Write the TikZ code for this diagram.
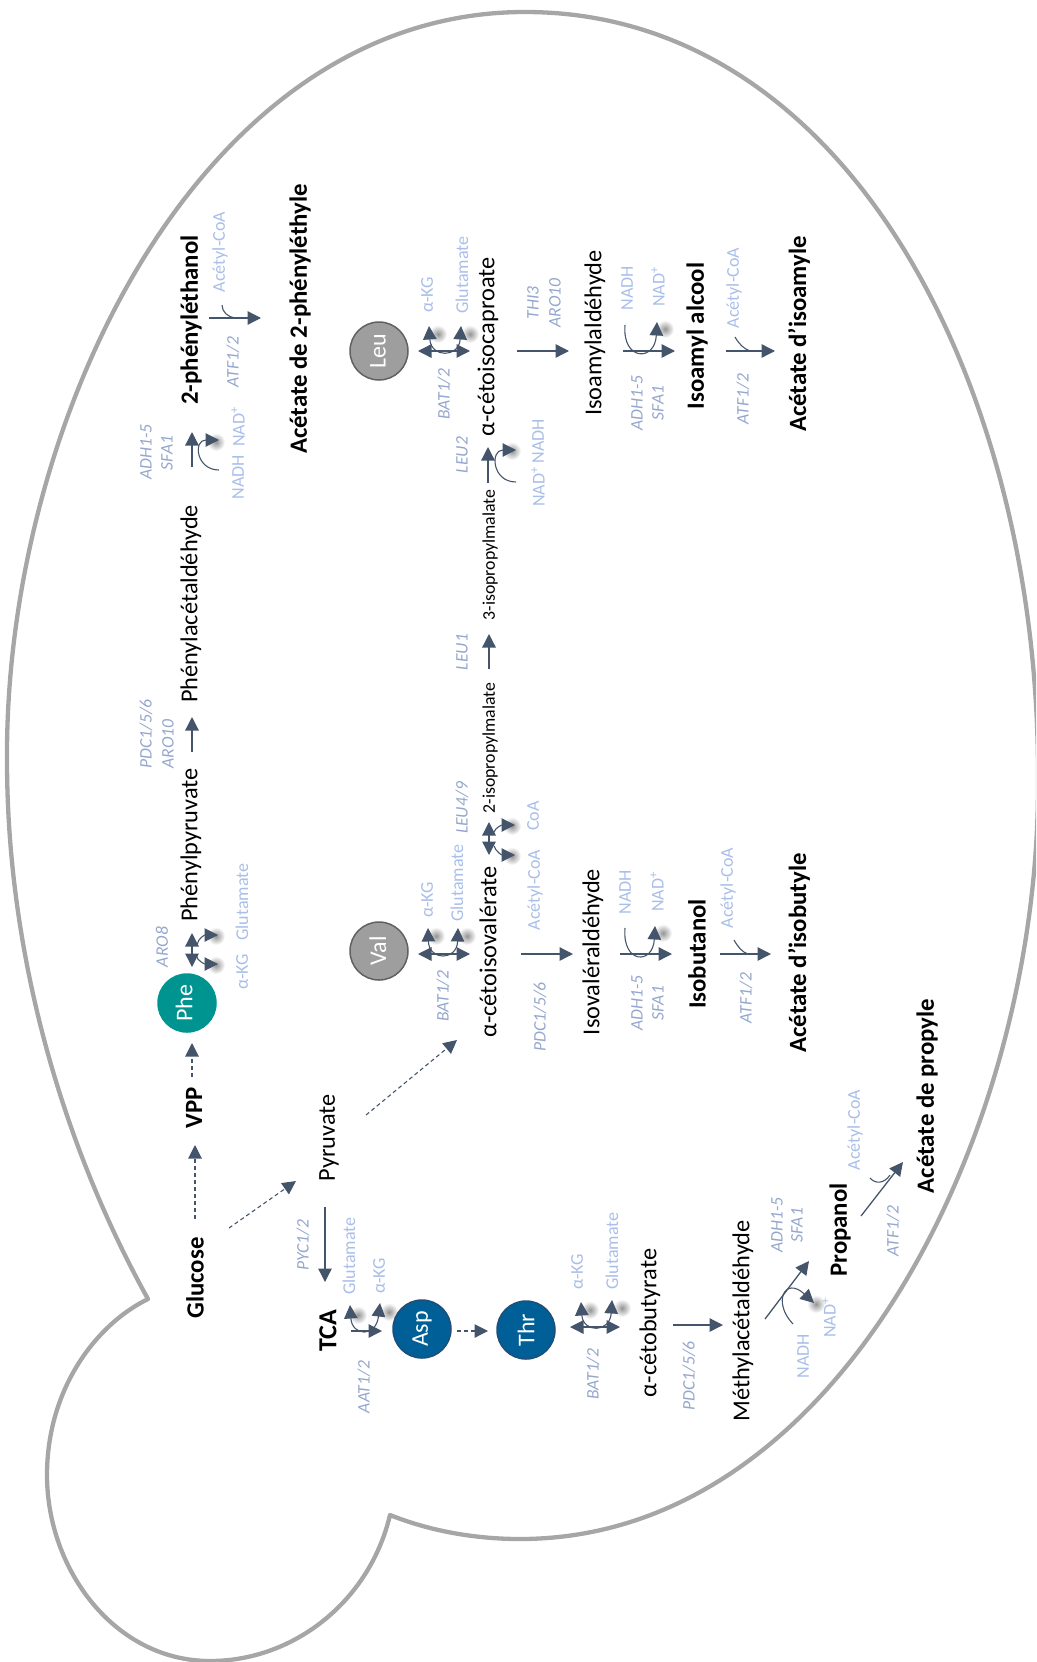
\documentclass[tikz,border=0pt]{standalone}
\usepackage{fontspec}
\setmainfont{Carlito}
\usetikzlibrary{arrows.meta}
\definecolor{flowc}{HTML}{44546A}
\definecolor{cofac}{HTML}{A9BEE8}
\definecolor{enzc}{HTML}{95A7CC}
\definecolor{cellc}{HTML}{A6A6A6}
\definecolor{phec}{HTML}{009490}
\definecolor{bluec}{HTML}{005F97}
\definecolor{bluee}{HTML}{1F4E79}
\tikzset{
  flow/.style={draw=flowc,line width=1.3pt,-{Triangle[length=13.5pt,width=13.5pt]}},
  dflow/.style={flow,dash pattern=on 4pt off 3pt,line width=1.1pt},
  dbl/.style={flow,{Triangle[length=13.5pt,width=13.5pt]}-{Triangle[length=13.5pt,width=13.5pt]}},
  bowarr/.style={draw=flowc,line width=1.1pt,-{Triangle[length=13.5pt,width=13.5pt]}},
  bowdbl/.style={draw=flowc,line width=1.1pt,{Triangle[length=13.5pt,width=13.5pt]}-{Triangle[length=13.5pt,width=13.5pt]}},
  bowplain/.style={draw=flowc,line width=1.1pt},
  txt/.style={rotate=90,inner sep=0pt,anchor=center},
  met/.style={txt,font=\fontsize{24.3}{25}\selectfont,text=black},
  metb/.style={txt,font=\fontsize{24.8}{25}\selectfont\bfseries,text=black},
  mets/.style={txt,font=\fontsize{17.8}{18}\selectfont,text=black},
  cof/.style={txt,font=\fontsize{18}{18}\selectfont,text=cofac},
  enz/.style={txt,font=\fontsize{17.6}{18}\selectfont\itshape,text=enzc},
  amino/.style={circle,minimum size=58pt,inner sep=0pt,line width=1.5pt},
  aminot/.style={txt,text=white,font=\fontsize{24}{25}\selectfont},
  cell/.style={draw=cellc,line width=4.3pt,line join=round,line cap=round}
}
\newcommand{\pathlink}[4][flow]{\coordinate (#2s) at #3; \coordinate (#2e) at #4; \draw[#1] (#2s) -- (#2e);}
\newcommand{\bowlink}[6][bowarr]{\coordinate (#2s) at #3; \coordinate (#2e) at #6; \draw[#1] (#2s) .. controls #4 and #5 .. (#2e);}
\newcommand{\blurspot}[2]{\shade[inner color=black!42,outer color=white] (#1,#2) circle (9pt);}
\begin{document}
\begin{tikzpicture}[x=1pt,y=-1pt]
\useasboundingbox (0,0) rectangle (1036,1662);
\clip (0,0) rectangle (1036,1662);
% cell outline
\draw[cell] (148,1299) .. controls (60,1140) and (7,950) .. (7,760)
  .. controls (5,420) and (200,12) .. (525,12)
  .. controls (850,12) and (1040,390) .. (1038,780)
  .. controls (1040,1130) and (840,1539) .. (520,1539)
  .. controls (475,1539) and (430,1531) .. (390,1515)
  .. controls (370,1600) and (295,1661) .. (210,1661)
  .. controls (115,1661) and (47,1570) .. (47,1475)
  .. controls (47,1390) and (95,1325) .. (148,1299);
% soft shadows below the bent arrow heads
\foreach \px/\py in {216/442,512/451,438/334,470/334,665/329,216/936,216/965,512/826,512/856,436/936,467/936,663/933,358/1315,389/1312,590/1310,622/1308,816/1304}{\blurspot{\px}{\py}}
% amino acids
\node[amino,fill=black!38,draw=black!62] (leu) at (379,351) {};
\node[amino,fill=black!38,draw=black!62] (val) at (379,951) {};
\node[amino,fill=phec,draw=phec] (phe) at (187,1003) {};
\node[amino,fill=bluec,draw=bluee] (asp) at (422,1329) {};
\node[amino,fill=bluec,draw=bluee] (thr) at (526,1330) {};
\node[aminot] (leut) at (378,351) {Leu};
\node[aminot] (valt) at (378,951) {Val};
\node[aminot] (phet) at (184,1003) {Phe};
\node[aminot] (aspt) at (422,1329) {Asp};
\node[aminot] (thrt) at (526,1330) {Thr};
% phenyl branch
\node[metb] (glc) at (195,1278) {Glucose};
\node[metb] (vpp) at (194,1108) {VPP};
\node[met] (phepyr) at (191,845) {Phénylpyruvate};
\node[met] (pheald) at (191,604) {Phénylacétaldéhyde};
\node[metb] (pheol) at (191,320) {2-phényléthanol};
\node[metb] (pheac) at (300,319) {Acétate de 2-phényléthyle};
\node[enz] (aro8) at (162,947) {ARO8};
\node[cof] (gluA) at (242,902) {Glutamate};
\node[cof] (kgA) at (242,972) {α-KG};
\node[enz] (pdcA) at (146,734) {PDC1/5/6};
\node[enz] (aroA) at (168,744) {ARO10};
\node[enz] (adhA) at (146,452) {ADH1-5};
\node[enz] (sfaA) at (167,453) {SFA1};
\node[cof] (nadhA) at (238,477) {NADH};
\node[cof] (nadA) at (238,427) {NAD\textsuperscript{+}};
\node[cof] (acoA) at (220,252) {Acétyl-CoA};
\node[enz] (atfA) at (233,362) {ATF1/2};
\pathlink[dflow]{a1}{(195,1219)}{(195,1145)}
\pathlink[dflow]{a2}{(192,1077)}{(192,1043)}
\pathlink[dbl]{a3}{(192,967)}{(192,933)}
\bowlink{a3a}{(196,955)}{(197,961)}{(205,964)}{(218,964)}
\bowlink{a3b}{(197,945)}{(198,938)}{(205,935)}{(218,935)}
\pathlink{a4}{(192,752)}{(192,717)}
\pathlink{a5}{(192,467)}{(192,432)}
\bowlink{a5b}{(219,470)}{(196,470)}{(193,440)}{(219,440)}
\pathlink{a6}{(209,318)}{(261,318)}
\bowlink[bowplain]{a6b}{(222,305)}{(222,312)}{(228,317)}{(235,318)}
% leu branch
\node[met] (kicap) at (488,347) {α-cétoisocaproate};
\node[met] (isoald) at (595,333) {Isoamylaldéhyde};
\node[metb] (isool) at (697,336) {Isoamyl alcool};
\node[metb] (isoac) at (799,334) {Acétate d’isoamyle};
\node[cof] (kgB) at (427,295) {α-KG};
\node[cof] (gluB) at (462,275) {Glutamate};
\node[enz] (batB) at (444,394) {BAT1/2};
\node[enz] (leu2) at (462,455) {LEU2};
\node[cof] (nadB) at (538,487) {NAD\textsuperscript{+}};
\node[cof] (nadhB) at (538,441) {NADH};
\node[enz] (thi3) at (533,303) {THI3};
\node[enz] (aroB) at (555,303) {ARO10};
\node[cof] (nadhC) at (627,288) {NADH};
\node[cof] (nadC) at (658,287) {NAD\textsuperscript{+}};
\node[enz] (adhC) at (637,403) {ADH1-5};
\node[enz] (sfaC) at (658,403) {SFA1};
\node[cof] (acoC) at (734,288) {Acétyl-CoA};
\node[enz] (atfC) at (743,399) {ATF1/2};
\pathlink[dbl]{b1}{(418,351)}{(470,351)}
\bowlink[bowdbl]{b1b}{(429,326)}{(431,358)}{(459,358)}{(461,326)}
\pathlink{b2}{(517,351)}{(569,351)}
\pathlink{b3}{(623,351)}{(675,351)}
\bowlink{b3b}{(625,325)}{(622,361)}{(655,362)}{(657,322)}
\pathlink{b4}{(726,351)}{(775,351)}
\bowlink[bowplain]{b4b}{(735,337)}{(739,344)}{(744,349)}{(750,351)}
\pathlink{b5}{(488,483)}{(488,447)}
\bowlink{b5b}{(516,482)}{(492,482)}{(490,450)}{(516,450)}
% middle: isopropylmalate
\node[mets] (ipm3) at (490,555) {3-isopropylmalate};
\node[mets] (ipm2) at (490,748) {2-isopropylmalate};
\node[enz] (leu1) at (462,652) {LEU1};
\node[enz] (leu49) at (462,808) {LEU4/9};
\node[cof] (coa) at (533,816) {CoA};
\node[cof] (acoD) at (535,890) {Acétyl-CoA};
\pathlink{c1}{(489,669)}{(489,634)}
\pathlink[dbl]{c2}{(489,855)}{(489,822)}
\bowlink{c2a}{(494,846)}{(496,852)}{(502,855)}{(515,855)}
\bowlink{c2b}{(494,832)}{(496,827)}{(502,825)}{(515,825)}
% val branch
\node[met] (kival) at (488,952) {α-cétoisovalérate};
\node[met] (isoval) at (593,952) {Isovaléraldéhyde};
\node[metb] (isob) at (697,954) {Isobutanol};
\node[metb] (isobac) at (799,953) {Acétate d’isobutyle};
\node[cof] (kgE) at (427,900) {α-KG};
\node[cof] (gluE) at (457,883) {Glutamate};
\node[enz] (batE) at (443,996) {BAT1/2};
\node[enz] (pdcE) at (540,1017) {PDC1/5/6};
\node[cof] (nadhE) at (625,892) {NADH};
\node[cof] (nadE) at (657,892) {NAD\textsuperscript{+}};
\node[enz] (adhE) at (637,1003) {ADH1-5};
\node[enz] (sfaE) at (658,1003) {SFA1};
\node[cof] (acoE) at (728,888) {Acétyl-CoA};
\node[enz] (atfE) at (746,998) {ATF1/2};
\pathlink[dbl]{d1}{(418,954)}{(470,954)}
\bowlink[bowdbl]{d1b}{(428,928)}{(429,961)}{(457,961)}{(458,928)}
\pathlink{d2}{(521,954)}{(573,954)}
\pathlink{d3}{(620,954)}{(672,954)}
\bowlink{d3b}{(625,928)}{(622,964)}{(653,965)}{(655,926)}
\pathlink{d4}{(720,954)}{(771,954)}
\bowlink[bowplain]{d4b}{(734,940)}{(738,947)}{(742,952)}{(748,954)}
% glycolysis to pyruvate
\node[met] (pyr) at (329,1138) {Pyruvate};
\pathlink[dflow]{e1}{(229,1228)}{(296,1181)}
\pathlink[dflow]{e2}{(366,1115)}{(457,1040)}
% thr branch
\node[metb,font=\fontsize{26}{26}\selectfont\bfseries] (tca) at (328,1331) {TCA};
\node[enz] (pyc) at (303,1245) {PYC1/2};
\node[cof] (gluF) at (349,1256) {Glutamate};
\node[cof] (kgF) at (379,1276) {α-KG};
\node[enz] (aat) at (364,1387) {AAT1/2};
\pathlink{f1}{(325,1207)}{(325,1282)}
\pathlink{f2}{(351,1331)}{(382,1331)}
\bowlink[bowdbl]{f2b}{(350,1305)}{(352,1336)}{(376,1338)}{(380,1303)}
\pathlink[dflow]{f3}{(457,1331)}{(488,1331)}
\pathlink[dbl]{f4}{(570,1327)}{(620,1327)}
\bowlink[bowdbl]{f4b}{(581,1302)}{(583,1333)}{(610,1333)}{(612,1300)}
\node[cof] (kgG) at (577,1272) {α-KG};
\node[cof] (gluG) at (612,1251) {Glutamate};
\node[enz] (batG) at (593,1374) {BAT1/2};
\node[met] (kibut) at (650,1323) {α-cétobutyrate};
\node[enz] (pdcG) at (689,1376) {PDC1/5/6};
\pathlink{f5}{(673,1325)}{(723,1325)}
\node[met] (mald) at (743,1321) {Méthylacétaldéhyde};
\node[enz] (adhG) at (777,1225) {ADH1-5};
\node[enz] (sfaG) at (797,1225) {SFA1};
\node[cof] (nadhG) at (803,1356) {NADH};
\node[cof] (nadG) at (829,1318) {NAD\textsuperscript{+}};
\pathlink{f6}{(765,1319)}{(809,1261)}
\bowlink{f6b}{(793,1324)}{(772,1302)}{(785,1276)}{(814,1303)}
\node[metb] (prop) at (840,1230) {Propanol};
\node[cof] (acoG) at (855,1130) {Acétyl-CoA};
\node[enz] (atfG) at (893,1231) {ATF1/2};
\pathlink{f7}{(861,1216)}{(903,1162)}
\bowlink[bowplain]{f7b}{(870,1178)}{(875,1184)}{(884,1184)}{(890,1175)}
\node[metb] (propac) at (927,1096) {Acétate de propyle};
\end{tikzpicture}
\end{document}
